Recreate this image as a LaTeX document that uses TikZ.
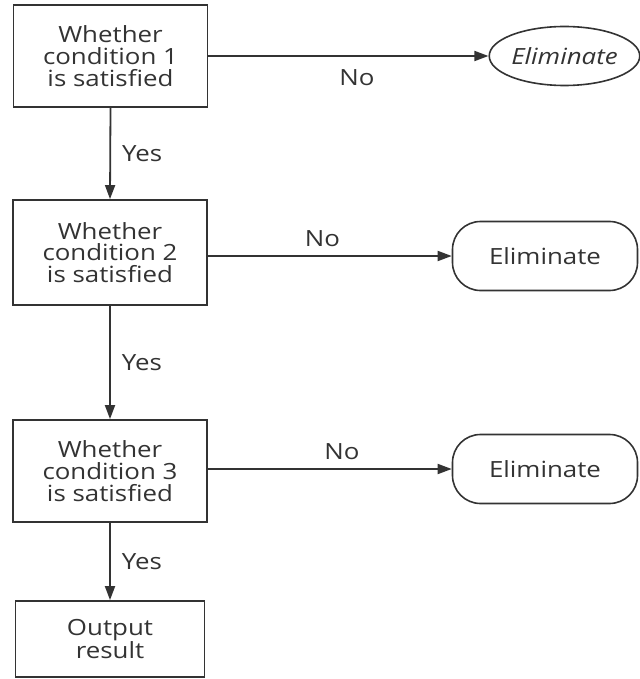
\documentclass[tikz,border=0pt]{standalone}
\usepackage{fontspec}
\setmainfont{Open Sans}[FakeStretch=1.16]
\usetikzlibrary{shapes.geometric,arrows.meta}
\definecolor{ink}{HTML}{333333}
\begin{document}
\begin{tikzpicture}[x=1pt,y=-1pt,
  txt/.style={text=ink,font=\fontsize{22.3}{21.8}\selectfont},
  cond/.style={txt,draw=ink,line width=1.8pt,rectangle,minimum width=194pt,align=center,inner sep=0pt},
  term/.style={txt,draw=ink,line width=1.6pt,rectangle,rounded corners=28pt,minimum width=185pt,minimum height=69pt},
  oval/.style={draw=ink,line width=1.6pt,ellipse,minimum width=147pt,minimum height=59pt,inner sep=0pt,text=ink,font=\fontsize{22.3}{21.8}\selectfont\itshape},
  conn/.style={draw=ink,line width=1.8pt,-{Triangle[length=14pt,width=10pt]}},
  lbl/.style={txt,inner sep=1pt}]
\useasboundingbox (0,0) rectangle (639,679);
\node[cond,minimum height=102pt] (c1) at (110.5,56) {Whether\\condition 1\\is satisfied};
\node[cond,minimum height=105pt] (c2) at (110,252.5) {Whether\\condition 2\\is satisfied};
\node[cond,minimum height=102pt] (c3) at (110,471) {Whether\\condition 3\\is satisfied};
\node[cond,minimum width=189pt,minimum height=76pt] (c4) at (110,639) {Output\\result};
\node[oval] (e1) at (564.5,56) {Eliminate};
\node[term] (e2) at (545,256) {Eliminate};
\node[term] (e3) at (545,469) {Eliminate};
\draw[conn] (c1.east) -- (e1.west) node[lbl,pos=0.53,below=12pt] {No};
\draw[conn] (c2.east |- e2.west) -- (e2.west) node[lbl,pos=0.47,above=7pt] {No};
\draw[conn] (c3.east |- e3.west) -- (e3.west) node[lbl,pos=0.55,above=7pt] {No};
\draw[conn] (c1.south) -- (c2.north) node[lbl,midway,right=10pt] {Yes};
\draw[conn] (c2.south) -- (c3.north) node[lbl,midway,right=10pt] {Yes};
\draw[conn] (c3.south) -- (c4.north) node[lbl,midway,right=10pt] {Yes};
\end{tikzpicture}
\end{document}
